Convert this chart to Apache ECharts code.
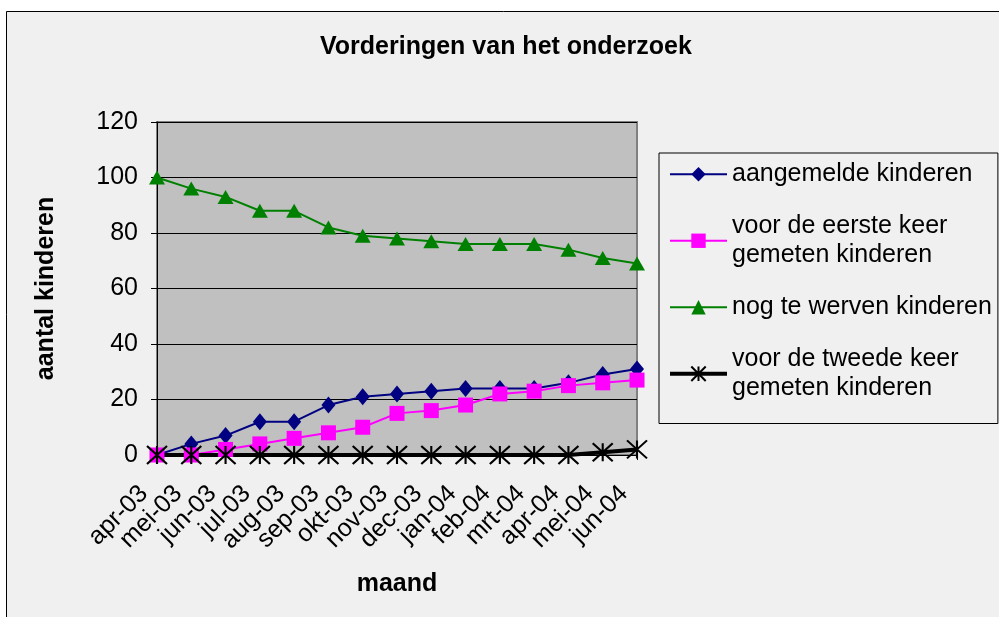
<!DOCTYPE html>
<html>
<head>
<meta charset="utf-8">
<script src="https://cdn.jsdelivr.net/npm/echarts@6/dist/echarts.min.js"></script>
<style>
    html, body { margin: 0; padding: 0; background: #ffffff; }
    #chart { width: 999px; height: 617px; }
</style>
</head>
<body>
<div id="chart"></div>
<script>
const months = ['apr-03', 'mei-03', 'jun-03', 'jul-03', 'aug-03', 'sep-03', 'okt-03',
    'nov-03', 'dec-03', 'jan-04', 'feb-04', 'mrt-04', 'apr-04', 'mei-04', 'jun-04'];

const aangemeld = [0, 4, 7, 12, 12, 18, 21, 22, 23, 24, 24, 24, 26, 29, 31];
const eersteKeer = [0, 0, 2, 4, 6, 8, 10, 15, 16, 18, 22, 23, 25, 26, 27];
const nogTeWerven = [100, 96, 93, 88, 88, 82, 79, 78, 77, 76, 76, 76, 74, 71, 69];
const tweedeKeer = [0, 0, 0, 0, 0, 0, 0, 0, 0, 0, 0, 0, 0, 1, 2];

const yTicks = { min: 0, max: 120, interval: 20 };

const FONT = "'Liberation Sans', Arial, sans-serif";
const STAR = 'path://M0,0L20,18M20,0L0,18M10,0L10,18';

const chart = echarts.init(document.querySelector('#chart'), null, { renderer: 'canvas' });

// two-line legend entries get an empty first line so the icon sits next to line one
const twoLine = { padding: [28.5, 0, 0, 0] };

const option = {
    animation: false,
    backgroundColor: '#ffffff',
    textStyle: { fontFamily: FONT, color: '#000' },
    graphic: [{
        type: 'rect',
        z: -100,
        silent: true,
        shape: { x: 6.5, y: 11.5, width: 1010, height: 630 },
        style: { fill: '#f0f0f0', stroke: '#000', lineWidth: 1 }
    }],
    title: {
        text: 'Vorderingen van het onderzoek',
        left: 320,
        top: 35,
        padding: 0,
        textStyle: { fontFamily: FONT, fontSize: 25, fontWeight: 'bold', color: '#000' }
    },
    grid: {
        left: 157,
        top: 122,
        right: 362,
        bottom: 162,
        show: true,
        backgroundColor: '#c0c0c0',
        borderColor: '#808080',
        borderWidth: 2
    },
    legend: {
        orient: 'vertical',
        left: 659,
        top: 153,
        padding: [7, 6, 7, 9],
        borderColor: '#000',
        borderWidth: 1,
        itemWidth: 57,
        itemHeight: 18,
        itemGap: 9.5,
        itemTextGap: 6,
        textStyle: { fontFamily: FONT, fontSize: 25, lineHeight: 28.5, color: '#000' },
        data: [
            { name: 'aangemelde kinderen', lineStyle: { width: 2 } },
            { name: 'voor de eerste keer\ngemeten kinderen', lineStyle: { width: 2 }, textStyle: twoLine },
            { name: 'nog te werven kinderen', lineStyle: { width: 2 } },
            { name: 'voor de tweede keer\ngemeten kinderen', lineStyle: { width: 4 }, textStyle: twoLine }
        ]
    },
    xAxis: {
        type: 'category',
        data: months,
        boundaryGap: false,
        name: 'maand',
        nameLocation: 'middle',
        nameGap: 117,
        nameTextStyle: { fontFamily: FONT, fontSize: 25, fontWeight: 'bold', color: '#000' },
        axisLine: { lineStyle: { color: '#000', width: 1 } },
        axisTick: { show: true, length: 5, lineStyle: { color: '#000' } },
        axisLabel: {
            interval: 0,
            rotate: 45,
            margin: 48,
            align: 'right',
            verticalAlign: 'bottom',
            lineHeight: 37,
            fontFamily: FONT,
            fontSize: 25,
            color: '#000'
        },
        splitLine: { show: false }
    },
    yAxis: {
        type: 'value',
        min: yTicks.min,
        max: yTicks.max,
        interval: yTicks.interval,
        name: 'aantal kinderen',
        nameLocation: 'middle',
        nameGap: 98,
        nameTextStyle: { fontFamily: FONT, fontSize: 25, fontWeight: 'bold', color: '#000' },
        axisLine: { show: true, lineStyle: { color: '#000', width: 1 } },
        axisTick: { show: true, length: 6, lineStyle: { color: '#000' } },
        axisLabel: { margin: 19, fontFamily: FONT, fontSize: 25, color: '#000' },
        splitLine: { show: true, lineStyle: { color: '#000', width: 1 } }
    },
    series: [
        {
            name: 'aangemelde kinderen',
            type: 'line',
            data: aangemeld,
            symbol: 'diamond',
            symbolSize: [14, 17],
            itemStyle: { color: '#000080' },
            lineStyle: { color: '#000080', width: 2 }
        },
        {
            name: 'voor de eerste keer\ngemeten kinderen',
            type: 'line',
            data: eersteKeer,
            symbol: 'rect',
            symbolSize: 15,
            itemStyle: { color: '#ff00ff' },
            lineStyle: { color: '#ff00ff', width: 2 }
        },
        {
            name: 'nog te werven kinderen',
            type: 'line',
            data: nogTeWerven,
            symbol: 'triangle',
            symbolSize: [16, 14],
            itemStyle: { color: '#008000' },
            lineStyle: { color: '#008000', width: 2 }
        },
        {
            name: 'voor de tweede keer\ngemeten kinderen',
            type: 'line',
            data: tweedeKeer,
            symbol: STAR,
            symbolSize: [20, 18],
            itemStyle: { color: '#000', borderColor: '#000', borderWidth: 2 },
            lineStyle: { color: '#000', width: 4 }
        }
    ]
};

chart.setOption(option);
</script>
</body>
</html>
